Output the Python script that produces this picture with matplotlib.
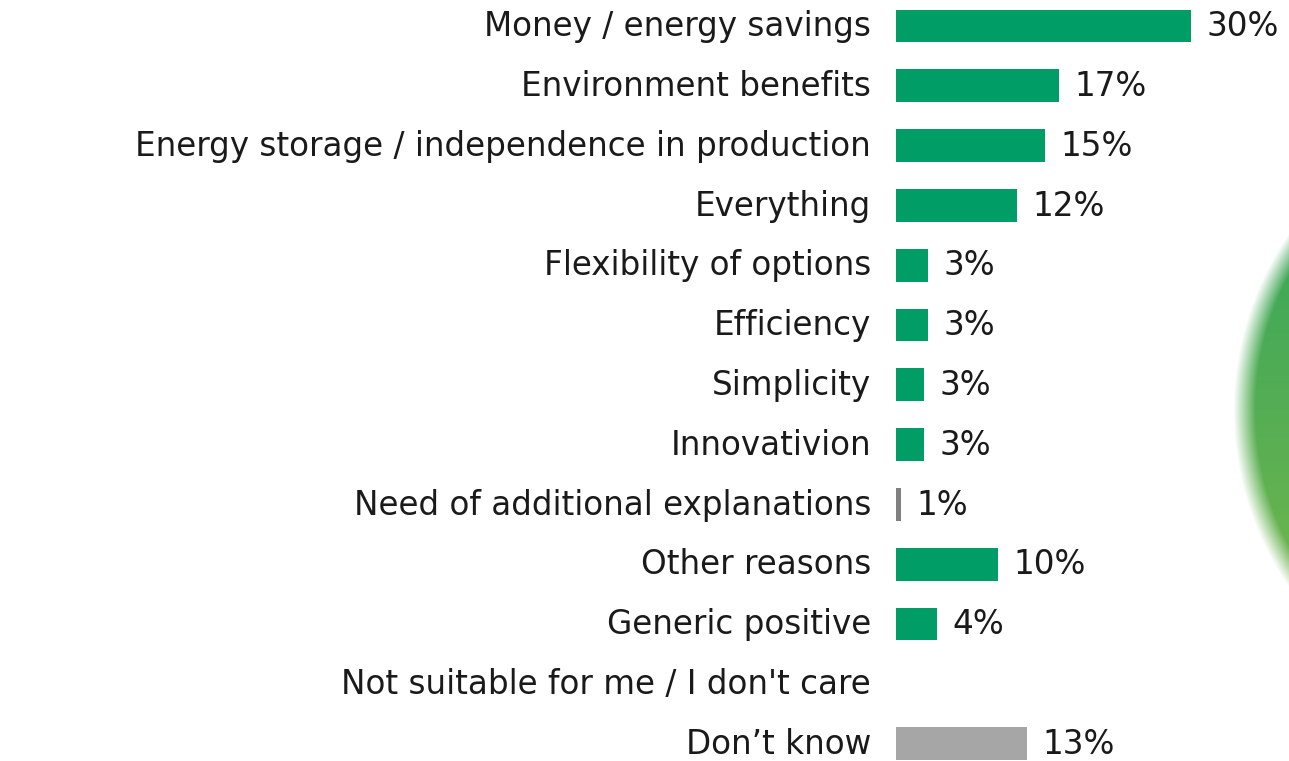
import numpy as np
import matplotlib
matplotlib.use("Agg")
import matplotlib.pyplot as plt

plt.rcParams['font.family'] = ['DejaVu Sans']

categories = ["Money / energy savings", "Environment benefits",
              "Energy storage / independence in production", "Everything",
              "Flexibility of options", "Efficiency", "Simplicity", "Innovativion",
              "Need of additional explanations", "Other reasons", "Generic positive",
              "Not suitable for me / I don't care", "Don’t know"]
values = [29.5, 16.3, 14.9, 12.1, 3.2, 3.2, 2.8, 2.8, 0.5, 10.2, 4.1, 0, 13.1]
value_labels = ["30%", "17%", "15%", "12%", "3%", "3%", "3%", "3%", "1%",
                "10%", "4%", "", "13%"]
colors = ["#009E66"] * 8 + ["#808080"] + ["#009E66"] * 3 + ["#A6A6A6"]

W, H = 1289, 761
fig = plt.figure(figsize=(W / 100, H / 100), dpi=100)

# decorative blurred green circle on the right edge
bg = fig.add_axes([0, 0, 1, 1])
yy, xx = np.mgrid[0:H, 0:W]
cx, cy, R = 1544, 410, 300
d = np.sqrt((xx - cx) ** 2 + (yy - cy) ** 2)
alpha = np.clip((R - d) / 22 + 0.5, 0, 1)
t = np.clip((yy - 110) / 600, 0, 1)[..., None]
top = np.array([0x2A, 0xA2, 0x5E]) / 255
bot = np.array([0x80, 0xBA, 0x4A]) / 255
rgb = top * (1 - t) + bot * t
img = np.dstack([rgb, alpha])
bg.imshow(img, extent=[0, W, H, 0], aspect='auto', interpolation='nearest')
bg.set_xlim(0, W)
bg.set_ylim(H, 0)
bg.axis('off')

ax = fig.add_axes([896 / W, 0, (W - 896) / W, 1])
ax.patch.set_alpha(0)
y = np.arange(len(categories))
ax.barh(y, values, height=0.55, color=colors)
ax.set_xlim(0, (W - 896) / 10)
ax.set_ylim((H - 26) / 59.8, -26 / 59.8)
ax.set_xticks([])
ax.set_yticks([])
for s in ax.spines.values():
    s.set_visible(False)

# category labels on the left, value labels after each bar
for yi, cat, v, lab in zip(y, categories, values, value_labels):
    ax.annotate(cat, (0, yi), xytext=(-18, 2), textcoords='offset points',
                va='center_baseline', ha='right', fontsize=23.5, color="#1a1a1a",
                annotation_clip=False)
    ax.annotate(lab, (v, yi), xytext=(11, 2), textcoords='offset points',
                va='center_baseline', ha='left', fontsize=23.5, color="#1a1a1a")

fig.savefig("out.png", dpi=100)
